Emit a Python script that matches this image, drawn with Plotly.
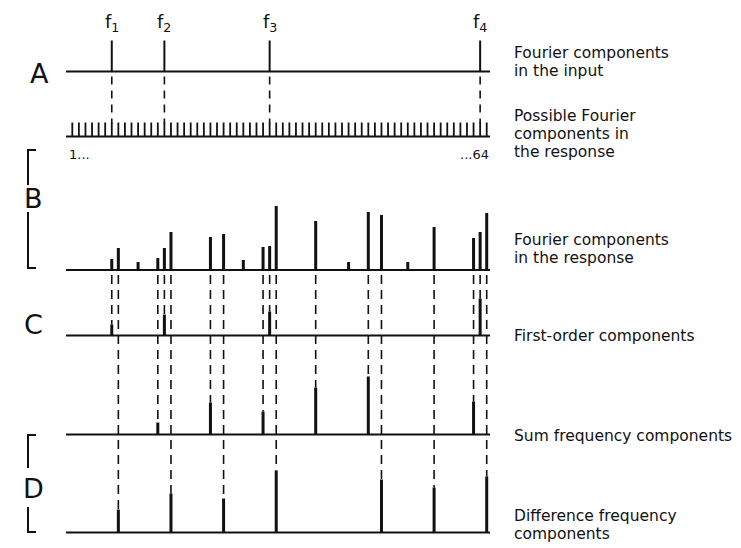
import plotly.graph_objects as go

# ---------------- data (component index 1..64, spike heights) ----------------
comb_index = list(range(1, 65))
comb_height = [14] * 64

input_index = [7, 15, 31, 63]
input_height = [31, 31, 31, 31]
input_labels = ["f<sub>1</sub>", "f<sub>2</sub>", "f<sub>3</sub>", "f<sub>4</sub>"]

response_index = [7, 8, 11, 14, 15, 16, 22, 24, 27, 30, 31, 32, 38, 43, 46, 48, 52, 56, 62, 63, 64]
response_height = [11, 22, 8, 12, 22, 38, 33, 36, 10, 23, 24, 64, 49, 8, 58, 55, 8, 43, 32, 38, 57]

first_index = [7, 15, 31, 63]
first_height = [11, 21, 24, 37]

sum_index = [14, 22, 30, 38, 46, 62]
sum_height = [12, 32, 23, 47, 58, 33]

diff_index = [8, 16, 24, 32, 48, 56, 64]
diff_height = [23, 39, 34, 62, 53, 45, 56]

row_letters = ["A", "B", "C", "D"]
right_labels = [
    ["Fourier components", "in the input"],
    ["Possible Fourier", "components in", "the response"],
    ["Fourier components", "in the response"],
    ["First-order components"],
    ["Sum frequency components"],
    ["Difference frequency", "components"],
]

# ---------------- layout helpers (pixel geometry) ----------------
W, H = 741, 548
PX1, DX = 72.3, 6.578          # pixel x of index 1, pixel spacing per index


def X(px):
    return 1 + (px - PX1) / DX


def Y(py):
    return H - py


BASE_A = Y(71.5)
BASE_COMB = Y(136.5)
BASE_R = Y(270)
BASE_C = Y(335.5)
BASE_S = Y(434.5)
BASE_D = Y(532.5)
LINE_X0, LINE_X1 = X(66), X(490)

INK = "#111111"
FONT = "DejaVu Sans"


def spikes(idx, hts, base):
    xs, ys = [], []
    for k, h in zip(idx, hts):
        xs += [k, k, None]
        ys += [base, base + h, None]
    return xs, ys


def drops(idx, top, bottoms):
    xs, ys = [], []
    for k, b in zip(idx, bottoms):
        xs += [k, k, None]
        ys += [top, b, None]
    return xs, ys


fig = go.Figure()

# baselines
bx, by = [], []
for b in [BASE_A, BASE_COMB, BASE_R, BASE_C, BASE_S, BASE_D]:
    bx += [LINE_X0, LINE_X1, None]
    by += [b, b, None]
fig.add_trace(go.Scatter(x=bx, y=by, mode="lines", line=dict(color=INK, width=2), hoverinfo="skip"))

# dashed connectors A -> comb
x, y = drops(input_index, BASE_A - 5, [BASE_COMB + 13] * len(input_index))
fig.add_trace(go.Scatter(x=x, y=y, mode="lines", line=dict(color=INK, width=1.6, dash="8px,6px"), hoverinfo="skip"))

# dashed connectors from response to lower rows
conn_idx = first_index + sum_index + diff_index
conn_bot = ([BASE_C + h for h in first_height] + [BASE_S + h for h in sum_height]
            + [BASE_D + h for h in diff_height])
x, y = drops(conn_idx, BASE_R - 5, conn_bot)
fig.add_trace(go.Scatter(x=x, y=y, mode="lines", line=dict(color=INK, width=1.6, dash="9px,6px"), hoverinfo="skip"))

# spikes
for idx, hts, base, w in [
    (input_index, input_height, BASE_A, 2),
    (comb_index, comb_height, BASE_COMB, 1.8),
    (response_index, response_height, BASE_R, 3),
    (first_index, first_height, BASE_C, 3),
    (sum_index, sum_height, BASE_S, 3),
    (diff_index, diff_height, BASE_D, 3),
]:
    x, y = spikes(idx, hts, base)
    fig.add_trace(go.Scatter(x=x, y=y, mode="lines", line=dict(color=INK, width=w), hoverinfo="skip"))

# brackets for B and D
brx, bry = [], []
for (t0, t1), (b0, b1) in [((150, 185), (212, 268)), ((435, 468), (507, 532))]:
    brx += [X(36), X(28), X(28), None, X(28), X(28), X(36), None]
    bry += [Y(t0), Y(t0), Y(t1), None, Y(b0), Y(b1), Y(b1), None]
fig.add_trace(go.Scatter(x=brx, y=bry, mode="lines", line=dict(color=INK, width=2), hoverinfo="skip"))

ann = []
# f labels
for k, h, lab in zip(input_index, input_height, input_labels):
    ann.append(dict(x=k, y=BASE_A + h + 4, text=lab, showarrow=False, xanchor="center", yanchor="bottom",
                    font=dict(family=FONT, size=18, color=INK)))
# row letters
for lab, px, py in zip(row_letters, [39, 33, 33, 33], [73, 198, 324, 488]):
    ann.append(dict(x=X(px), y=Y(py), text=lab, showarrow=False, xanchor="center", yanchor="middle",
                    font=dict(family=FONT, size=27, color=INK)))
# comb end labels
ann.append(dict(x=X(67), y=Y(154), text="1...", showarrow=False, xanchor="left", yanchor="middle",
                font=dict(family=FONT, size=13, color=INK)))
ann.append(dict(x=X(491), y=Y(154), text="...64", showarrow=False, xanchor="right", yanchor="middle",
                font=dict(family=FONT, size=13, color=INK)))
# right labels, one annotation per text line
for lines, py in zip(right_labels, [53, 116, 240, 336, 436, 516]):
    for i, line in enumerate(lines):
        ann.append(dict(x=X(512), y=Y(py + 18 * i), text=line, showarrow=False, xanchor="left",
                        yanchor="middle", font=dict(family=FONT, size=15.5, color=INK)))

fig.update_layout(
    width=W, height=H,
    margin=dict(l=0, r=0, t=0, b=0),
    paper_bgcolor="white", plot_bgcolor="white",
    showlegend=False,
    annotations=ann,
    xaxis=dict(range=[X(0), X(W)], visible=False, fixedrange=True),
    yaxis=dict(range=[0, H], visible=False, fixedrange=True),
)

fig.write_html("out.html", config={"displayModeBar": False},
               post_script="document.body.style.margin='0';")
